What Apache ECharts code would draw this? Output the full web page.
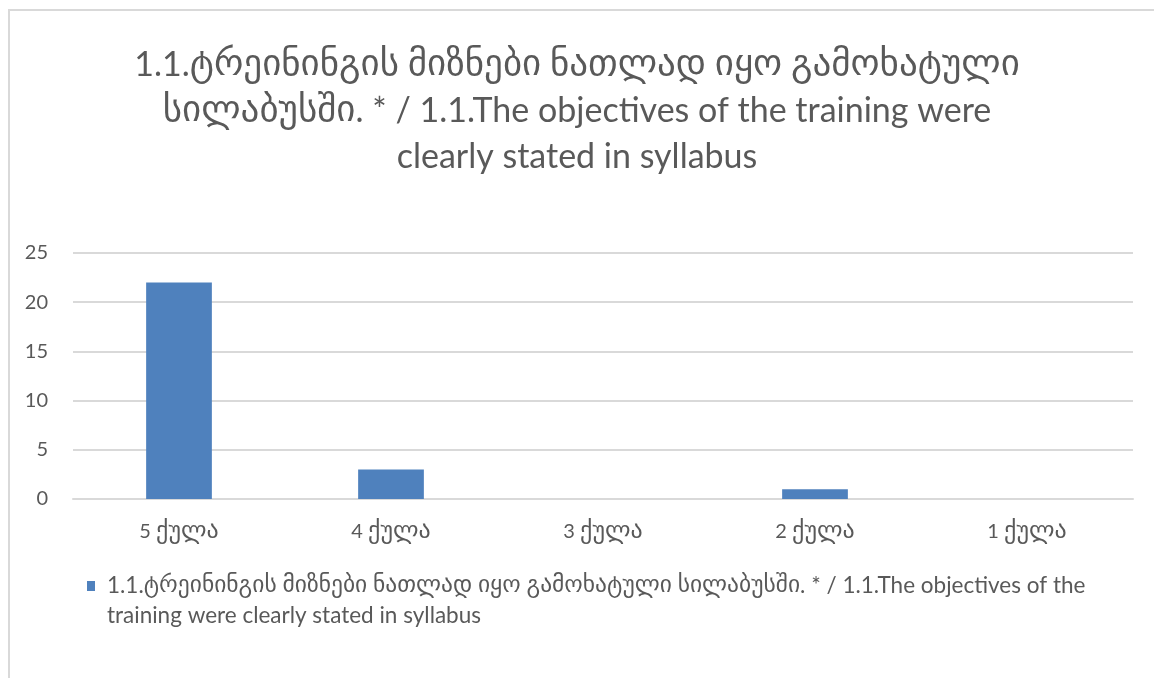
<!DOCTYPE html>
<html>
<head>
<meta charset="utf-8">
<style>
	html, body { margin: 0; padding: 0; background: #fff; }
	#chart { width: 1154px; height: 678px; }
	#frame {
		position: absolute; left: 8px; top: 9px; right: -5px; bottom: -5px;
		border-left: 2px solid #d9d9d9; border-top: 2px solid #d9d9d9;
		pointer-events: none;
	}
</style>
<script src="https://cdn.jsdelivr.net/npm/echarts@6/dist/echarts.min.js"></script>
</head>
<body>
<div id="chart"></div>
<div id="frame"></div>
<script>
	const categories = ['5 ქულა', '4 ქულა', '3 ქულა', '2 ქულა', '1 ქულა']
	const counts = [22, 3, 0, 1, 0]
	const seriesName = '1.1.ტრეინინგის მიზნები ნათლად იყო გამოხატული სილაბუსში. * / 1.1.The objectives of the training were clearly stated in syllabus'
	const titleLines = [
		'1.1.ტრეინინგის მიზნები ნათლად იყო გამოხატული',
		'სილაბუსში. * / 1.1.The objectives of the training were',
		'clearly stated in syllabus'
	]

	const latin = 'Lato, "Open Sans", sans-serif'
	const geo = '"DejaVu Sans", sans-serif'
	const textColor = '#595959'
	const gridColor = '#d9d9d9'

	// split text into georgian / latin runs so each gets its own font size
	function richRuns(str) {
		return str.replace(/[\u10A0-\u10FF]+|[^\u10A0-\u10FF]+/g, function (run) {
			return /[\u10A0-\u10FF]/.test(run) ? '{g|' + run + '}' : '{e|' + run + '}'
		})
	}

	function richStyle(eSize, gSize, lineHeight) {
		return {
			e: { fontFamily: latin, fontSize: eSize, color: textColor, lineHeight: lineHeight },
			g: { fontFamily: geo, fontSize: gSize, color: textColor, lineHeight: lineHeight }
		}
	}

	// legend symbol: small rect in the top-left of a 15x40 box, so it sits on the first text line
	const legendIcon = 'path://M0,0h8v10h-8z M15,40'

	const chart = echarts.init(document.getElementById('chart'))

	chart.setOption({
		animation: false,
		title: {
			text: titleLines.map(richRuns).join('\n'),
			left: 'center',
			top: 37,
			textStyle: {
				fontWeight: 'normal',
				color: textColor,
				lineHeight: 46,
				rich: richStyle(34, 37, 46)
			}
		},
		grid: {
			left: 73,
			right: 21,
			top: 253,
			bottom: 179,
			containLabel: false
		},
		legend: {
			left: 87,
			top: 571,
			padding: 0,
			itemWidth: 15,
			itemHeight: 40,
			icon: legendIcon,
			itemGap: 6,
			// wrap the long name the way the original does, after "of the"
			formatter: function (name) {
				return name.replace('of the ', 'of the\n').split('\n').map(richRuns).join('\n')
			},
			textStyle: {
				color: textColor,
				lineHeight: 30,
				rich: richStyle(22.5, 23.5, 30)
			}
		},
		xAxis: {
			type: 'category',
			data: categories,
			axisLine: { lineStyle: { color: gridColor, width: 2 } },
			axisTick: { show: false },
			axisLabel: {
				margin: 20,
				formatter: function (v) { return richRuns(v) },
				rich: richStyle(20, 24, 26)
			}
		},
		yAxis: {
			type: 'value',
			min: 0,
			max: 25,
			interval: 5,
			axisLine: { show: false },
			axisTick: { show: false },
			axisLabel: {
				fontFamily: latin,
				fontSize: 20,
				color: textColor,
				margin: 25
			},
			splitLine: { lineStyle: { color: gridColor, width: 2 } }
		},
		series: [{
			name: seriesName,
			type: 'bar',
			data: counts,
			barWidth: '31%',
			itemStyle: { color: '#4F81BD' }
		}]
	})
</script>
</body>
</html>
